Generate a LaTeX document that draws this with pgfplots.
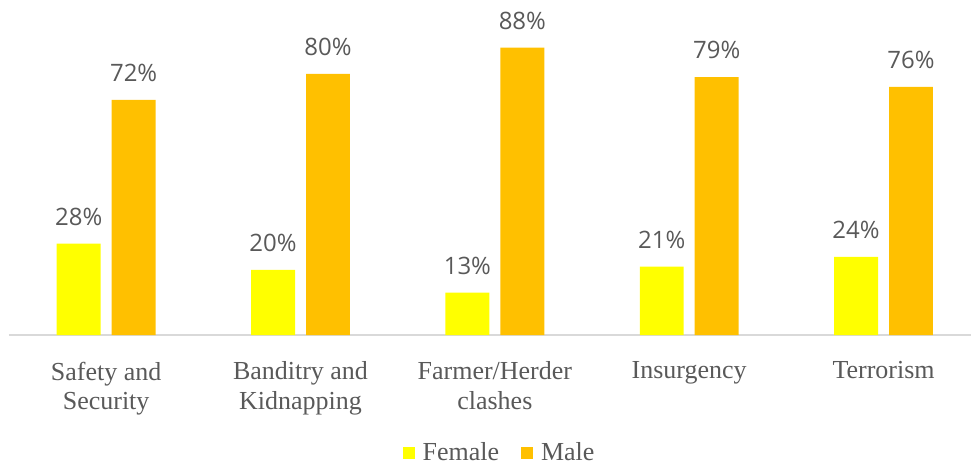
\documentclass[border=0pt]{standalone}
\usepackage{pgfplots}
\pgfplotsset{compat=1.18}
\usepackage{fontspec}
\setmainfont{Liberation Serif}
\newfontfamily\numfont{Open Sans}
\definecolor{fem}{HTML}{FFFF00}
\definecolor{mal}{HTML}{FFC000}
\definecolor{txt}{HTML}{595959}
\definecolor{axl}{HTML}{D9D9D9}
\begin{document}
\begin{tikzpicture}
\begin{axis}[
  width=481.5pt, height=166.75pt, scale only axis,
  ybar=5.5pt, bar width=22pt,
  xmin=-0.5, xmax=4.45, ymin=0, ymax=102,
  axis y line=none,
  axis x line*=bottom,
  x axis line style={draw=axl, line width=1pt, -},
  xtick={0,1,2,3,4},
  xticklabels={Safety and\\Security, Banditry and\\Kidnapping, Farmer/Herder\\clashes, Insurgency, Terrorism},
  xtick style={draw=none},
  xticklabel style={align=center, font=\fontsize{13}{14.75}\selectfont, text=txt, anchor=north, yshift=-5.5pt},
  nodes near coords={\numfont\pgfmathprintnumber[assume math mode=true]{\pgfplotspointmeta}\%},
  every node near coord/.append style={font=\numfont\fontsize{12}{14}\selectfont, text=txt, yshift=5.5pt},
  legend columns=2,
  legend style={draw=none, at={(0.511,-0.354)}, anchor=center, font=\fontsize{13}{15}\selectfont, text=txt,
    /tikz/every odd column/.append style={column sep=2pt},
    /tikz/every even column/.append style={column sep=9pt}},
  legend image code/.code={\fill[#1] (0pt,-3pt) rectangle (6pt,3pt);},
  clip=false,
]
\addplot[fill=fem, draw=none] coordinates {(0,28) (1,20) (2,13) (3,21) (4,24)};
\addplot[fill=mal, draw=none] coordinates {(0,72) (1,80) (2,88) (3,79) (4,76)};
\legend{Female, Male}
\coordinate (e) at (rel axis cs:0,0);
\coordinate (t) at (rel axis cs:0,1);
\end{axis}
\path ([xshift=-4.5pt]e) rectangle ([xshift=-4.4pt]e);
\path ([yshift=1pt]t) rectangle ([yshift=0.9pt]t);
\end{tikzpicture}
\end{document}
